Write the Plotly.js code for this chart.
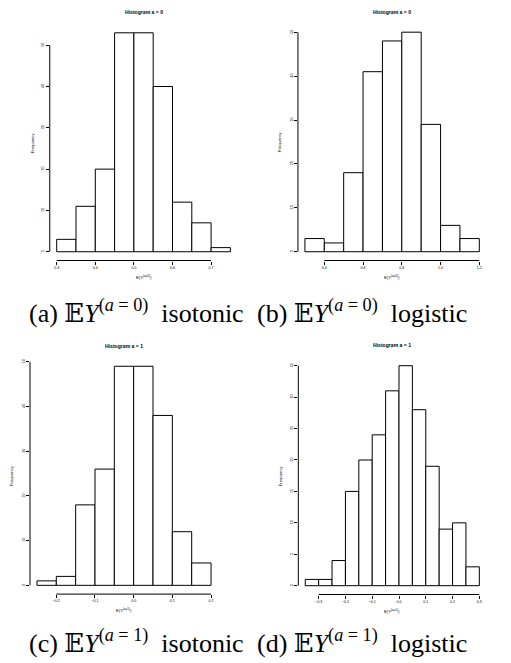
<!DOCTYPE html>
<html>
<head>
<meta charset="utf-8">
<script src="https://cdn.plot.ly/plotly-3.0.1.min.js"></script>
<style>html,body{margin:0;padding:0;background:#fff;}#chart{width:511px;height:663px;}</style>
</head>
<body>
<div id="chart"></div>
<script>
// ---- data (bin left edges, bin width, counts) ----
const binStartA = [0.30, 0.35, 0.40, 0.45, 0.50, 0.55, 0.60, 0.65, 0.70];
const countsA   = [3, 11, 20, 53, 53, 40, 12, 7, 1];
const binWidthA = 0.05;

const binStartB = [0.3, 0.4, 0.5, 0.6, 0.7, 0.8, 0.9, 1.0, 1.1];
const countsB   = [3, 2, 18, 41, 48, 50, 29, 6, 3];
const binWidthB = 0.1;

const binStartC = [-0.25, -0.20, -0.15, -0.10, -0.05, 0.00, 0.05, 0.10, 0.15];
const countsC   = [1, 2, 18, 26, 49, 49, 38, 12, 5];
const binWidthC = 0.05;

const binStartD = [-0.35, -0.30, -0.25, -0.20, -0.15, -0.10, -0.05, 0.00, 0.05, 0.10, 0.15, 0.20, 0.25];
const countsD   = [1, 1, 4, 15, 20, 24, 31, 35, 28, 19, 9, 10, 3];
const binWidthD = 0.05;

const xTicksA = [0.3, 0.4, 0.5, 0.6, 0.7];
const xTicksB = [0.4, 0.6, 0.8, 1.0, 1.2];
const xTicksC = [-0.2, -0.1, 0.0, 0.1, 0.2];
const xTicksD = [-0.3, -0.2, -0.1, 0.0, 0.1, 0.2, 0.3];
const yTicksA = [0, 10, 20, 30, 40, 50];
const yTicksB = [0, 10, 20, 30, 40, 50];
const yTicksC = [0, 10, 20, 30, 40, 50];
const yTicksD = [0, 5, 10, 15, 20, 25, 30, 35];

const mainTitles = ["Histogram a = 0", "Histogram a = 0", "Histogram a = 1", "Histogram a = 1"];
const xTitles = ["E(Y<sup>(a=0)</sup>)", "E(Y<sup>(a=0)</sup>)", "E(Y<sup>(a=1)</sup>)", "E(Y<sup>(a=1)</sup>)"];
const yTitle = "Frequency";
const captions = [
  "(a) 𝔼<i>Y</i><sup>(<i>a</i> = 0)</sup>\u00A0 isotonic",
  "(b) 𝔼<i>Y</i><sup>(<i>a</i> = 0)</sup>\u00A0 logistic",
  "(c) 𝔼<i>Y</i><sup>(<i>a</i> = 1)</sup>\u00A0 isotonic",
  "(d) 𝔼<i>Y</i><sup>(<i>a</i> = 1)</sup>\u00A0 logistic"
];

// ---- layout geometry (pixels) ----
const W = 511, H = 663;
const panels = [
  {x0: 49.75, x1: 237.35, yTop: 24.05, yBot: 260.5, xr: [0.282, 0.768], yr: [-2.12, 55.12]},
  {x0: 297.95, x1: 486.3, yTop: 23.4, yBot: 260.5, xr: [0.264, 1.236], yr: [-2, 52]},
  {x0: 30.0, x1: 218.0, yTop: 357.5, yBot: 594.1, xr: [-0.268, 0.218], yr: [-1.96, 50.96]},
  {x0: 298.3, x1: 486.3, yTop: 356.9, yBot: 594.5, xr: [-0.376, 0.326], yr: [-1.4, 36.4]}
];
const bins = [binStartA, binStartB, binStartC, binStartD];
const counts = [countsA, countsB, countsC, countsD];
const widths = [binWidthA, binWidthB, binWidthC, binWidthD];
const xTicks = [xTicksA, xTicksB, xTicksC, xTicksD];
const yTicks = [yTicksA, yTicksB, yTicksC, yTicksD];
const xFmt = [".1f", ".1f", ".1f", ".1f"];

const px = v => v / W;
const py = v => 1 - v / H;

const traces = [];
const layout = {
  width: W, height: H,
  margin: {l: 0, r: 0, t: 0, b: 0, pad: 0},
  paper_bgcolor: "#fff", plot_bgcolor: "#fff",
  showlegend: false,
  bargap: 0,
  shapes: [], annotations: []
};
const tickFont = {family: "Liberation Sans, Arial, sans-serif", size: 3.6, color: "#000"};
const labFont = {family: "Liberation Sans, Arial, sans-serif", size: 4.2, color: "#000"};
const titleFont = {family: "Liberation Sans, Arial, sans-serif", size: 5.1, color: "#000", weight: "bold"};
const capFont = {family: "Liberation Serif, DejaVu Serif, DejaVu Sans, serif", size: 26, color: "#000"};

panels.forEach((p, i) => {
  const n = i + 1;
  const xa = "x" + (n === 1 ? "" : n), ya = "y" + (n === 1 ? "" : n);
  traces.push({
    type: "bar", x: bins[i], y: counts[i], width: widths[i], offset: 0,
    xaxis: xa, yaxis: ya,
    marker: {color: "#fff", line: {color: "#000", width: 1}},
    hoverinfo: "skip"
  });
  const xKey = "xaxis" + (n === 1 ? "" : n), yKey = "yaxis" + (n === 1 ? "" : n);
  layout[xKey] = {
    domain: [px(p.x0), px(p.x1)], range: p.xr, anchor: ya,
    showgrid: false, zeroline: false, showline: false,
    ticks: "outside", ticklen: 3, tickwidth: 1, tickcolor: "#000",
    tickmode: "array", tickvals: xTicks[i], tickformat: xFmt[i],
    tickfont: tickFont, fixedrange: true
  };
  layout[yKey] = {
    domain: [py(p.yBot), py(p.yTop)], range: p.yr, anchor: xa,
    showgrid: false, zeroline: false, showline: false,
    ticks: "outside", ticklen: 3, tickwidth: 1, tickcolor: "#000",
    tickmode: "array", tickvals: yTicks[i], tickangle: -90,
    tickfont: tickFont, fixedrange: true
  };
  const xt = xTicks[i], yt = yTicks[i];
  layout.shapes.push({type: "line", xref: xa, yref: ya + " domain",
    x0: xt[0], x1: xt[xt.length - 1], y0: 0, y1: 0, line: {color: "#000", width: 1}});
  layout.shapes.push({type: "line", xref: xa + " domain", yref: ya,
    x0: 0, x1: 0, y0: yt[0], y1: yt[yt.length - 1], line: {color: "#000", width: 1}});
  const cx = (p.x0 + p.x1) / 2;
  layout.annotations.push({text: mainTitles[i], xref: "paper", yref: "paper",
    x: px(cx), y: py(p.yTop - 11.7), xanchor: "center", yanchor: "middle",
    showarrow: false, font: titleFont});
  layout.annotations.push({text: xTitles[i], xref: "paper", yref: "paper",
    x: px(cx), y: py(p.yBot + 16.3), xanchor: "center", yanchor: "middle",
    showarrow: false, font: labFont});
  layout.annotations.push({text: yTitle, xref: "paper", yref: "paper",
    x: px(p.x0 - 17.8), y: py((p.yTop + p.yBot) / 2), xanchor: "center", yanchor: "middle",
    textangle: -90, showarrow: false, font: labFont});
});

const capPos = [[27, 311], [255, 311], [27, 641], [255, 641]];
captions.forEach((c, i) => {
  layout.annotations.push({text: c, xref: "paper", yref: "paper",
    x: px(capPos[i][0]), y: py(capPos[i][1]), xanchor: "left", yanchor: "middle",
    showarrow: false, font: capFont});
});

Plotly.newPlot("chart", traces, layout, {staticPlot: true, displayModeBar: false});
</script>
</body>
</html>
